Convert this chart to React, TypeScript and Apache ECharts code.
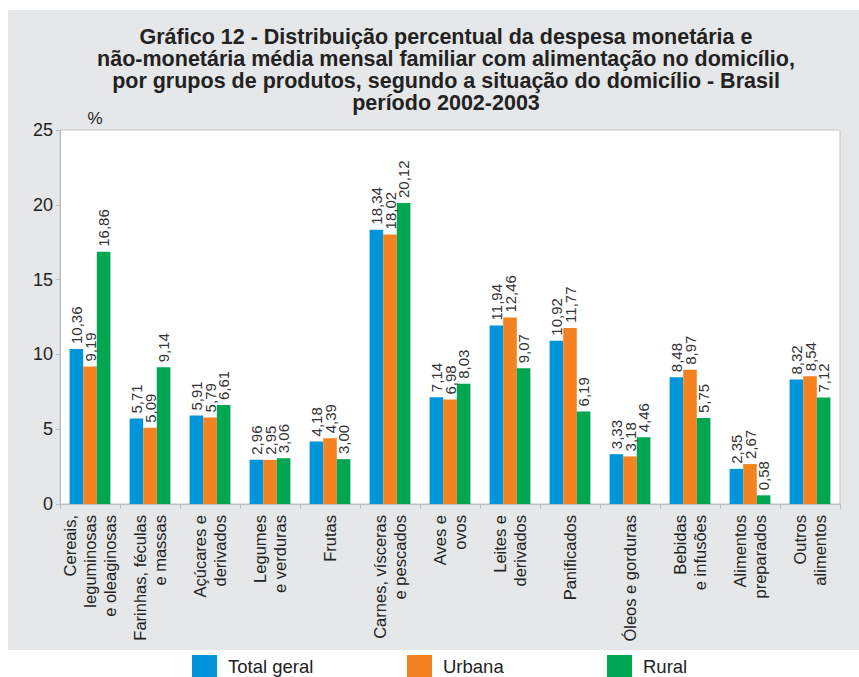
import React, { useEffect, useRef } from "react";
import * as echarts from "echarts";

const categories: string[] = [
  "Cereais,\nleguminosas\ne oleaginosas",
  "Farinhas, féculas\ne massas",
  "Açúcares e\nderivados",
  "Legumes\ne verduras",
  "Frutas",
  "Carnes, vísceras\ne pescados",
  "Aves e\novos",
  "Leites e\nderivados",
  "Panificados",
  "Óleos e gorduras",
  "Bebidas\ne infusões",
  "Alimentos\npreparados",
  "Outros\nalimentos",
];

const totalGeral: number[] = [10.36, 5.71, 5.91, 2.96, 4.18, 18.34, 7.14, 11.94, 10.92, 3.33, 8.48, 2.35, 8.32];
const urbana: number[] = [9.19, 5.09, 5.79, 2.95, 4.39, 18.02, 6.98, 12.46, 11.77, 3.18, 8.97, 2.67, 8.54];
const rural: number[] = [16.86, 9.14, 6.61, 3.06, 3.0, 20.12, 8.03, 9.07, 6.19, 4.46, 5.75, 0.58, 7.12];

const seriesNames: string[] = ["Total geral", "Urbana", "Rural"];
const yTicks = { min: 0, max: 25, interval: 5 };

const titleText =
  "Gráfico 12 - Distribuição percentual da despesa monetária e\n" +
  "não-monetária média mensal familiar com alimentação no domicílio,\n" +
  "por grupos de produtos, segundo a situação do domicílio - Brasil\n" +
  "período 2002-2003";

const FONT = '"Liberation Sans", Arial, sans-serif';
const COLORS = ["#0095da", "#f58220", "#00a651"];

export default function App() {
  const ref = useRef<HTMLDivElement>(null);

  useEffect(() => {
    if (!ref.current) return;
    const chart = echarts.init(ref.current, undefined, { renderer: "svg" });

    const makeSeries = (name: string, data: number[], color: string) => ({
      name,
      type: "bar",
      data,
      barGap: "0%",
      barCategoryGap: "32%",
      itemStyle: { color },
      label: {
        show: true,
        position: "top",
        rotate: 90,
        align: "left",
        verticalAlign: "middle",
        distance: 5,
        fontFamily: FONT,
        fontSize: 15,
        color: "#333",
        formatter: (p: any) => Number(p.value).toFixed(2).replace(".", ","),
      },
    });

    const legendBase = (name: string, left: number) => ({
      data: [name],
      left,
      top: 655,
      padding: 0,
      orient: "horizontal",
      icon: "rect",
      itemWidth: 25,
      itemHeight: 22,
      selectedMode: false,
      textStyle: {
        fontFamily: FONT,
        fontSize: 18.5,
        color: "#222",
        padding: [0, 0, 0, 6],
      },
    });

    chart.setOption({
      animation: false,
      textStyle: { fontFamily: FONT },
      color: COLORS,
      graphic: [
        {
          type: "rect",
          z: -10,
          silent: true,
          shape: { x: 8, y: 10, width: 851, height: 640 },
          style: { fill: "#e6e7e8" },
        },
        {
          type: "text",
          z: 10,
          style: {
            text: titleText,
            x: 446,
            y: 26,
            textAlign: "center",
            textVerticalAlign: "top",
            font: `bold 21.5px ${FONT}`,
            lineHeight: 22,
            fill: "#222",
          },
        },
        {
          type: "text",
          z: 10,
          style: {
            text: "%",
            x: 95,
            y: 118,
            textAlign: "center",
            textVerticalAlign: "middle",
            font: `17px ${FONT}`,
            fill: "#222",
          },
        },
      ],
      legend: [
        legendBase(seriesNames[0], 192),
        legendBase(seriesNames[1], 407),
        legendBase(seriesNames[2], 607),
      ],
      grid: {
        left: 60,
        right: 19,
        top: 130,
        bottom: 173,
        show: true,
        backgroundColor: "#ffffff",
        borderColor: "#c4c4c4",
        borderWidth: 1,
      },
      xAxis: {
        type: "category",
        data: categories,
        axisLine: { lineStyle: { color: "#bdbdbd" } },
        axisTick: { show: true, length: 5, lineStyle: { color: "#bdbdbd" } },
        axisLabel: {
          interval: 0,
          rotate: 90,
          margin: 11,
          fontFamily: FONT,
          fontSize: 16.5,
          lineHeight: 20,
          color: "#222",
        },
      },
      yAxis: {
        type: "value",
        min: yTicks.min,
        max: yTicks.max,
        interval: yTicks.interval,
        splitLine: { show: false },
        axisLine: { show: true, lineStyle: { color: "#bdbdbd" } },
        axisTick: { show: true, length: 4, lineStyle: { color: "#bdbdbd" } },
        axisLabel: {
          fontFamily: FONT,
          fontSize: 18,
          color: "#222",
          margin: 7,
        },
      },
      series: [
        makeSeries(seriesNames[0], totalGeral, COLORS[0]),
        makeSeries(seriesNames[1], urbana, COLORS[1]),
        makeSeries(seriesNames[2], rural, COLORS[2]),
      ],
    });

    return () => chart.dispose();
  }, []);

  return (
    <div
      ref={ref}
      style={{ position: "fixed", left: 0, top: 0, width: 859, height: 677, background: "#ffffff" }}
    />
  );
}
